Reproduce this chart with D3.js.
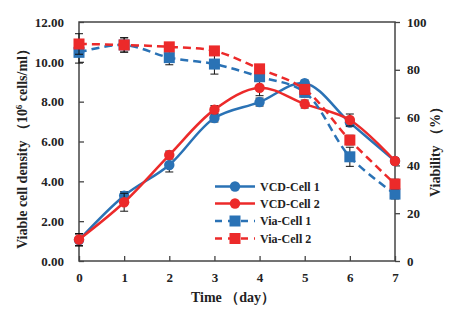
<!DOCTYPE html>
<html>
<head>
<meta charset="utf-8">
<script src="https://cdn.jsdelivr.net/npm/d3@7"></script>
<style>
  body { margin: 0; background: #fff; }
  text { font-family: "Liberation Serif", "Times New Roman", serif; font-weight: bold; fill: #222; }
</style>
</head>
<body>
<script>
// data
const days = [0, 1, 2, 3, 4, 5, 6, 7];
const vcdCell1 = [1.05, 3.28, 4.82, 7.18, 7.98, 8.93, 6.95, 5.02];
const vcdCell2 = [1.08, 2.95, 5.32, 7.6, 8.7, 7.88, 7.08, 5.02];
const viaCell1 = [87.3, 90.4, 85.1, 82.4, 77.1, 70.6, 43.6, 28.0];
const viaCell2 = [90.8, 90.4, 89.6, 87.9, 80.4, 71.8, 50.6, 32.2];
const vcdErr1 = [0.3, 0.2, 0.35, 0.2, 0.2, 0.15, 0.2, 0.15];
const vcdErr2 = [0.3, 0.45, 0.2, 0.2, 0.4, 0.2, 0.3, 0.15];
const viaErr1 = [4.5, 3, 3, 4.2, 2, 2, 4, 2];
const viaErr2 = [4.3, 3, 1.5, 1.5, 1.5, 2, 2, 2];
const leftTicks = [0, 2, 4, 6, 8, 10, 12];
const rightTicks = [0, 20, 40, 60, 80, 100];

const blue = "#2a72b5";
const red = "#ec2a2a";

const W = 458, H = 322;
const plot = { left: 79, right: 395, top: 22, bottom: 261 };

const svg = d3.select("body").append("svg")
  .attr("width", W)
  .attr("height", H);

const x = d3.scaleLinear().domain([0, 7]).range([plot.left, plot.right]);
const yL = d3.scaleLinear().domain([0, 12]).range([plot.bottom, plot.top]);
const yR = d3.scaleLinear().domain([0, 100]).range([plot.bottom, plot.top]);

// axes
const axisColor = "#444";
const gx = svg.append("g")
  .attr("transform", `translate(0,${plot.bottom})`)
  .call(d3.axisBottom(x).tickValues(days).tickSize(-5).tickSizeOuter(0).tickPadding(12).tickFormat(d3.format("d")));
const gl = svg.append("g")
  .attr("transform", `translate(${plot.left},0)`)
  .call(d3.axisLeft(yL).tickValues(leftTicks).tickSize(-5).tickSizeOuter(0).tickPadding(15).tickFormat(d3.format(".2f")));
const gr = svg.append("g")
  .attr("transform", `translate(${plot.right},0)`)
  .call(d3.axisRight(yR).tickValues(rightTicks).tickSize(5).tickSizeOuter(0).tickPadding(7).tickFormat(d3.format("d")));

[gx, gl, gr].forEach(g => {
  g.select(".domain").remove();
  g.selectAll(".tick line").attr("stroke", axisColor).attr("stroke-width", 1.3);
  g.selectAll(".tick text").style("font-size", "13px").attr("fill", "#222");
});

// frame
svg.append("rect")
  .attr("x", plot.left).attr("y", plot.top)
  .attr("width", plot.right - plot.left).attr("height", plot.bottom - plot.top)
  .attr("fill", "none").attr("stroke", axisColor).attr("stroke-width", 1.5);

// axis titles
svg.append("text")
  .attr("x", (plot.left + plot.right) / 2 - 4).attr("y", 302)
  .attr("text-anchor", "middle").style("font-size", "14px")
  .text("Time （day）");

const ylab = svg.append("text")
  .attr("transform", `translate(27,${(plot.top + plot.bottom) / 2 + 4}) rotate(-90)`)
  .attr("text-anchor", "middle").style("font-size", "14px");
ylab.append("tspan").text("Viable cell density （10");
ylab.append("tspan").attr("dy", -5).style("font-size", "9px").text("6");
ylab.append("tspan").attr("dy", 5).text(" cells/ml）");

svg.append("text")
  .attr("transform", `translate(440,${(plot.top + plot.bottom) / 2 + 7}) rotate(-90)`)
  .attr("text-anchor", "middle").style("font-size", "14px")
  .text("Viability （%）");

const series = [
  { name: "VCD-Cell 1", vals: vcdCell1, err: vcdErr1, y: yL, color: blue, dash: null, shape: "circle" },
  { name: "VCD-Cell 2", vals: vcdCell2, err: vcdErr2, y: yL, color: red, dash: null, shape: "circle" },
  { name: "Via-Cell 1", vals: viaCell1, err: viaErr1, y: yR, color: blue, dash: "8,5", shape: "square" },
  { name: "Via-Cell 2", vals: viaCell2, err: viaErr2, y: yR, color: red, dash: "8,5", shape: "square" }
];

function drawMarker(g, shape, cx, cy, color) {
  if (shape === "circle") {
    g.append("circle").attr("cx", cx).attr("cy", cy).attr("r", 5.2).attr("fill", color);
  } else {
    g.append("rect").attr("x", cx - 5.5).attr("y", cy - 5.5).attr("width", 11).attr("height", 11).attr("fill", color);
  }
}

series.forEach(s => {
  const g = svg.append("g");
  const pts = days.map((d, i) => ({ d, v: s.vals[i], e: s.err[i] }));

  // error bars
  const eb = g.append("g").attr("stroke", "#111").attr("stroke-width", 1);
  pts.forEach(p => {
    const x0 = x(p.d), y1 = s.y(p.v - p.e), y2 = s.y(p.v + p.e);
    eb.append("line").attr("x1", x0).attr("x2", x0).attr("y1", y1).attr("y2", y2);
    eb.append("line").attr("x1", x0 - 4).attr("x2", x0 + 4).attr("y1", y1).attr("y2", y1);
    eb.append("line").attr("x1", x0 - 4).attr("x2", x0 + 4).attr("y1", y2).attr("y2", y2);
  });

  // smoothed lines, like the spreadsheet's "smooth line" option
  const line = d3.line()
    .x(p => x(p.d))
    .y(p => s.y(p.v))
    .curve(d3.curveCatmullRom.alpha(0.5));

  g.append("path")
    .datum(pts)
    .attr("d", line)
    .attr("fill", "none")
    .attr("stroke", s.color)
    .attr("stroke-width", 2.5)
    .attr("stroke-dasharray", s.dash);

  pts.forEach(p => drawMarker(g, s.shape, x(p.d), s.y(p.v), s.color));
});

// legend
const legend = svg.append("g");
const legendY = [186.5, 203.5, 221, 238.5];
series.forEach((s, i) => {
  const ly = legendY[i];
  legend.append("line")
    .attr("x1", 215).attr("x2", 255).attr("y1", ly).attr("y2", ly)
    .attr("stroke", s.color).attr("stroke-width", 2.5)
    .attr("stroke-dasharray", s.dash ? "7,6" : null);
  drawMarker(legend, s.shape, 235, ly, s.color);
  legend.append("text")
    .attr("x", 260).attr("y", ly + 4)
    .style("font-size", "12px")
    .text(s.name);
});
</script>
</body>
</html>
